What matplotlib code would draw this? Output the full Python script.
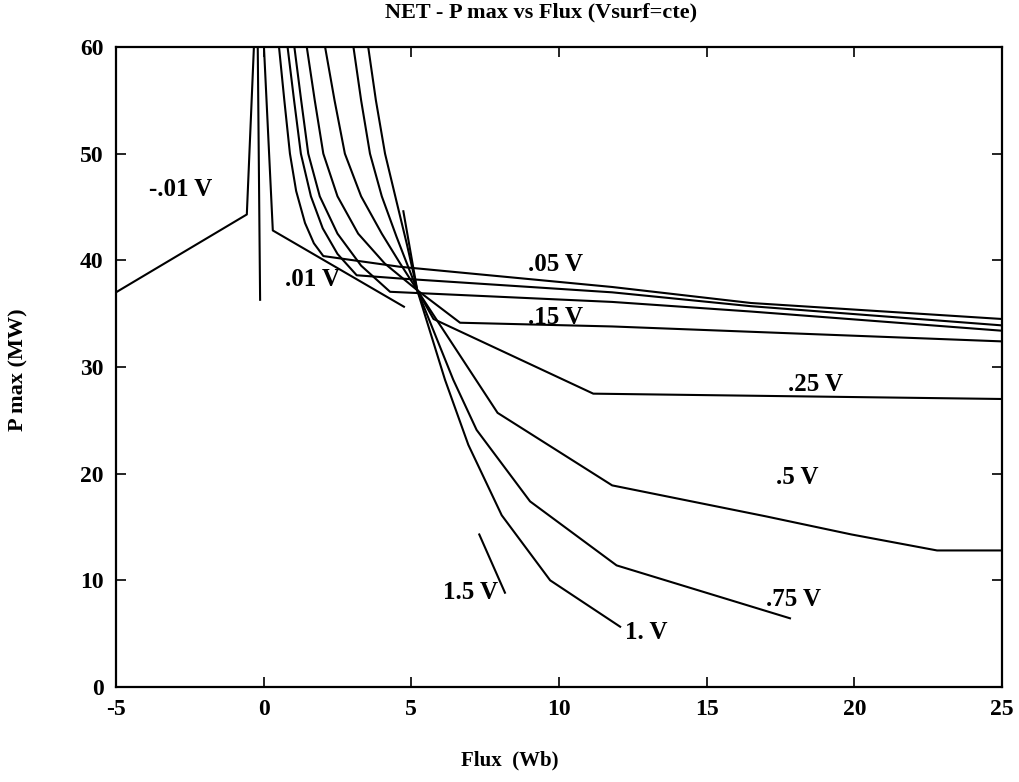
import numpy as np
import matplotlib
matplotlib.use("Agg")
import matplotlib.pyplot as plt

# ---- data (Flux in Wb, P max in MW) ----
x_m01 = [-5.0, -0.57, -0.33]
y_m01 = [37.0, 44.3, 60.0]

x_zero = [-0.12, -0.20]
y_zero = [36.3, 60.0]

x_p01 = [0.01, 0.31, 4.75]
y_p01 = [60.0, 42.8, 35.65]

x_p05 = [0.52, 0.70, 0.89, 1.10, 1.40, 1.70, 2.02, 4.6, 11.8, 16.5, 25.0]
y_p05 = [60.0, 55.0, 50.0, 46.5, 43.5, 41.6, 40.4, 39.4, 37.5, 36.0, 34.5]

x_p10 = [0.81, 1.03, 1.26, 1.60, 2.00, 2.50, 3.15, 4.6, 11.8, 16.5, 25.0]
y_p10 = [60.0, 55.0, 50.0, 46.0, 43.0, 40.6, 38.6, 38.3, 37.0, 35.7, 33.9]

x_p12 = [1.04, 1.27, 1.51, 1.90, 2.50, 3.30, 4.28, 11.8, 16.5, 25.0]
y_p12 = [60.0, 55.0, 50.0, 46.0, 42.5, 39.5, 37.05, 36.1, 35.2, 33.4]

x_p15 = [1.46, 1.73, 2.02, 2.50, 3.20, 4.10, 5.20, 6.65, 11.8, 25.0]
y_p15 = [60.0, 55.0, 50.0, 46.0, 42.5, 39.7, 37.2, 34.15, 33.8, 32.4]

x_p25 = [2.08, 2.40, 2.75, 3.30, 4.00, 4.60, 5.20, 5.75, 11.16, 25.0]
y_p25 = [60.0, 55.0, 50.0, 46.0, 42.5, 39.8, 37.2, 34.5, 27.5, 27.0]

x_p50 = [3.04, 3.30, 3.60, 4.00, 4.50, 5.20, 7.92, 11.8, 17.0, 19.9, 22.8, 25.0]
y_p50 = [60.0, 55.0, 50.0, 46.0, 42.2, 37.2, 25.7, 18.9, 16.0, 14.3, 12.8, 12.8]

x_p75 = [3.54, 3.80, 4.11, 4.50, 4.85, 5.20, 6.42, 7.21, 9.02, 11.95, 17.82]
y_p75 = [60.0, 55.0, 50.0, 45.5, 41.5, 37.2, 28.8, 24.1, 17.4, 11.4, 6.44]

x_p100 = [4.73, 5.20, 6.14, 6.93, 8.06, 9.70, 12.07]
y_p100 = [44.6, 37.2, 28.8, 22.7, 16.1, 10.0, 5.65]

x_p150 = [7.30, 8.17]
y_p150 = [14.3, 8.84]

curves = [(x_m01, y_m01), (x_zero, y_zero), (x_p01, y_p01), (x_p05, y_p05),
          (x_p10, y_p10), (x_p12, y_p12), (x_p15, y_p15), (x_p25, y_p25),
          (x_p50, y_p50), (x_p75, y_p75), (x_p100, y_p100), (x_p150, y_p150)]

label_text = ['-.01 V', '.01 V', '.05 V', '.15 V', '.25 V', '.5 V', '.75 V', '1. V', '1.5 V']
label_pos = [(-2.8, 46.6), (1.67, 38.2), (9.87, 39.6), (9.87, 34.6), (18.67, 28.4),
             (18.06, 19.6), (17.93, 8.2), (12.95, 5.1), (6.99, 8.9)]

# ---- figure ----
plt.rcParams['font.family'] = ['Liberation Serif', 'DejaVu Serif']
plt.rcParams['font.weight'] = 'bold'
plt.rcParams['axes.unicode_minus'] = False

fig = plt.figure(figsize=(10.2, 7.82), dpi=100)
ax = fig.add_axes([0.1137, 0.1215, 0.8687, 0.8184])

for xs, ys in curves:
    ax.plot(xs, ys, color='black', linewidth=1.5)

for txt, (lx, ly) in zip(label_text, label_pos):
    ax.text(lx, ly, txt, fontsize=18, fontweight='bold', ha='center', va='center')

ax.set_xlim(-5, 25)
ax.set_ylim(0, 60)
ax.set_xticks([-5, 0, 5, 10, 15, 20, 25])
ax.set_yticks([0, 10, 20, 30, 40, 50, 60])
ax.tick_params(direction='in', length=7, width=1.2, top=True, right=True,
               labelsize=17, pad=9)
for lab in ax.get_xticklabels() + ax.get_yticklabels():
    lab.set_fontweight('bold')
for sp in ax.spines.values():
    sp.set_linewidth(1.6)

fig.text(0.53, 0.984, 'NET - P max vs Flux (Vsurf=cte)', ha='center', va='center',
         fontsize=16, fontweight='bold')
fig.text(0.5, 0.028, 'Flux  (Wb)', ha='center', va='center', fontsize=15, fontweight='bold')
fig.text(0.018, 0.527, 'P max (MW)', ha='center', va='center', rotation=90,
         fontsize=16, fontweight='bold')

fig.savefig('out.png', dpi=100)
